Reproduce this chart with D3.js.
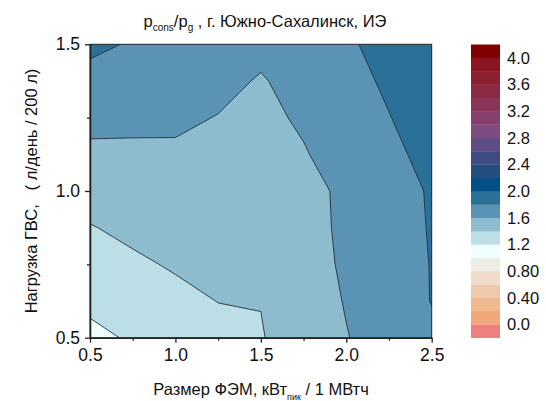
<!DOCTYPE html>
<html>
<head>
<meta charset="utf-8">
<script src="https://cdn.jsdelivr.net/npm/d3@7"></script>
<style>
  html, body { margin: 0; padding: 0; background: #ffffff; }
  svg { display: block; font-family: "Liberation Sans", Arial, sans-serif; }
</style>
</head>
<body>
<svg id="chart" width="546" height="401"></svg>
<script>
// PV module size (kWp per 1 MWh) along x, hot-water load along y
const pvSize = [0.5, 0.75, 1.0, 1.25, 1.5, 1.75, 2.0, 2.25, 2.5];
const dhwLoad = [0.5, 0.625, 0.75, 0.875, 1.0, 1.125, 1.25, 1.375, 1.5];

// p_cons / p_g, one row per load value (bottom to top), one column per PV size
const ratioRow050 = [1.159, 1.219, 1.280, 1.345, 1.390, 1.490, 1.593, 1.677, 1.760];
const ratioRow0625 = [1.236, 1.295, 1.353, 1.403, 1.404, 1.511, 1.610, 1.705, 1.805];
const ratioRow075 = [1.314, 1.371, 1.418, 1.442, 1.438, 1.532, 1.624, 1.715, 1.806];
const ratioRow0875 = [1.391, 1.440, 1.470, 1.480, 1.469, 1.553, 1.625, 1.721, 1.812];
const ratioRow100 = [1.476, 1.504, 1.521, 1.518, 1.499, 1.560, 1.625, 1.726, 1.817];
const ratioRow1125 = [1.562, 1.569, 1.573, 1.556, 1.530, 1.588, 1.676, 1.762, 1.849];
const ratioRow125 = [1.652, 1.638, 1.632, 1.594, 1.560, 1.623, 1.713, 1.795, 1.878];
const ratioRow1375 = [1.744, 1.712, 1.701, 1.650, 1.585, 1.668, 1.747, 1.825, 1.904];
const ratioRow150 = [1.837, 1.785, 1.770, 1.727, 1.648, 1.700, 1.778, 1.853, 1.930];

// contour levels and the colour of each band (below 0.0 ... above 4.0)
const levels = [0.0, 0.2, 0.4, 0.6, 0.8, 1.0, 1.2, 1.4, 1.6, 1.8, 2.0,
                2.2, 2.4, 2.6, 2.8, 3.0, 3.2, 3.4, 3.6, 3.8, 4.0];
const bandColors = [
  "#ef8080", "#f0a878", "#f0b88e", "#f0c8ab", "#efdccb", "#eeede6",
  "#f0ffff", "#bcdee6", "#8cbcce", "#5a93b4", "#2a7199", "#005088",
  "#224f80", "#3f4b82", "#5e4d85", "#7d4c80", "#87406c", "#8a3558",
  "#8b2a45", "#8c1f30", "#8b1520", "#800000"
];
const legendTickValues = [0.0, 0.4, 0.8, 1.2, 1.6, 2.0, 2.4, 2.8, 3.2, 3.6, 4.0];
const legendTickLabels = ["0.0", "0.40", "0.80", "1.2", "1.6", "2.0", "2.4", "2.8", "3.2", "3.6", "4.0"];
const xTicks = [0.5, 1.0, 1.5, 2.0, 2.5];
const xMinorTicks = [0.75, 1.25, 1.75, 2.25];
const yTicks = [0.5, 1.0, 1.5];
const yMinorTicks = [0.75, 1.25];

const svg = d3.select("#chart");
const plot = { left: 90, right: 431.7, top: 44.3, bottom: 337.7 };

const x = d3.scaleLinear().domain([0.5, 2.5]).range([plot.left, plot.right]);
const y = d3.scaleLinear().domain([0.5, 1.5]).range([plot.bottom, plot.top]);

const rows = [ratioRow050, ratioRow0625, ratioRow075, ratioRow0875, ratioRow100,
              ratioRow1125, ratioRow125, ratioRow1375, ratioRow150];
const nx = pvSize.length, ny = dhwLoad.length;
const values = rows.flat();

// grid coordinates from d3.contours -> data units
const gx = d3.scaleLinear().domain([0.5, nx - 0.5]).range([pvSize[0], pvSize[nx - 1]]);
const gy = d3.scaleLinear().domain([0.5, ny - 0.5]).range([dhwLoad[0], dhwLoad[ny - 1]]);
const path = d3.geoPath(d3.geoTransform({
  point(px, py) { this.stream.point(x(gx(px)), y(gy(py))); }
}));

const contours = d3.contours().size([nx, ny]).thresholds(levels)(values);

svg.append("defs").append("clipPath").attr("id", "plotClip")
  .append("rect")
  .attr("x", plot.left).attr("y", plot.top)
  .attr("width", plot.right - plot.left).attr("height", plot.bottom - plot.top);

const bandColor = v => bandColors[Math.round(v / 0.2) + 1];

svg.append("g").attr("clip-path", "url(#plotClip)")
  .selectAll("path")
  .data(contours)
  .join("path")
  .attr("d", path)
  .attr("fill", d => bandColor(d.value))
  .attr("stroke", "#22323d")
  .attr("stroke-width", 0.9)
  .attr("stroke-linejoin", "round");

// frame
svg.append("rect")
  .attr("x", plot.left).attr("y", plot.top)
  .attr("width", plot.right - plot.left).attr("height", plot.bottom - plot.top)
  .attr("fill", "none").attr("stroke", "#2a2a2a").attr("stroke-width", 1);

// axes
const fmt = d3.format(".1f");
const xAxis = svg.append("g").attr("transform", `translate(0,${plot.bottom})`)
  .call(d3.axisBottom(x).tickValues(xTicks).tickFormat(fmt).tickSize(5).tickSizeOuter(0).tickPadding(6));
svg.append("g").attr("transform", `translate(0,${plot.bottom})`)
  .call(d3.axisBottom(x).tickValues(xMinorTicks).tickFormat("").tickSize(3).tickSizeOuter(0))
  .select(".domain").remove();
const yAxis = svg.append("g").attr("transform", `translate(${plot.left},0)`)
  .call(d3.axisLeft(y).tickValues(yTicks).tickFormat(fmt).tickSize(5).tickSizeOuter(0).tickPadding(5));
svg.append("g").attr("transform", `translate(${plot.left},0)`)
  .call(d3.axisLeft(y).tickValues(yMinorTicks).tickFormat("").tickSize(3).tickSizeOuter(0))
  .select(".domain").remove();

svg.selectAll(".domain").attr("stroke", "#222").attr("stroke-width", 1.6);
svg.selectAll(".tick line").attr("stroke", "#222").attr("stroke-width", 1.3);
[xAxis, yAxis].forEach(a => a.selectAll("text")
  .attr("font-family", "Liberation Sans, Arial, sans-serif")
  .attr("font-size", 17.5).attr("fill", "#111"));

// legend
const legendX = 471, legendW = 29;
const ly = d3.scaleLinear().domain([-0.2, 4.2]).range([plot.bottom, plot.top + 0.2]);
const legend = svg.append("g");
legend.selectAll("rect")
  .data(bandColors)
  .join("rect")
  .attr("x", legendX)
  .attr("y", (c, i) => ly(-0.2 + 0.2 * (i + 1)))
  .attr("width", legendW)
  .attr("height", (c, i) => ly(-0.2 + 0.2 * i) - ly(-0.2 + 0.2 * (i + 1)) + 0.3)
  .attr("fill", c => c);
legend.selectAll("text")
  .data(legendTickValues)
  .join("text")
  .attr("x", legendX + legendW + 7)
  .attr("y", v => ly(v))
  .attr("dy", "0.36em")
  .attr("font-size", 16.5)
  .attr("fill", "#111")
  .text((v, i) => legendTickLabels[i]);

// title
const title = svg.append("text")
  .attr("x", 265).attr("y", 27)
  .attr("text-anchor", "middle")
  .attr("font-size", 16.5).attr("fill", "#111");
title.append("tspan").text("p");
title.append("tspan").attr("font-size", 10).attr("dy", 4).text("cons");
title.append("tspan").attr("dy", -4).text("/p");
title.append("tspan").attr("font-size", 10).attr("dy", 4).text("g");
title.append("tspan").attr("dy", -4).text(" , г. Южно-Сахалинск, ИЭ");

// x axis title
const xTitle = svg.append("text")
  .attr("x", 261).attr("y", 395)
  .attr("text-anchor", "middle")
  .attr("font-size", 16.5).attr("fill", "#111");
xTitle.append("tspan").text("Размер ФЭМ, кВт");
xTitle.append("tspan").attr("font-size", 9).attr("dy", 5).text("пик");
xTitle.append("tspan").attr("dy", -5).text(" / 1 МВтч");

// y axis title
svg.append("text")
  .attr("transform", `translate(37,${(plot.top + plot.bottom) / 2}) rotate(-90)`)
  .attr("text-anchor", "middle")
  .attr("font-size", 16.5).attr("fill", "#111")
  .style("white-space", "pre")
  .text("Нагрузка ГВС,   ( л/день / 200 л)");
</script>
</body>
</html>
